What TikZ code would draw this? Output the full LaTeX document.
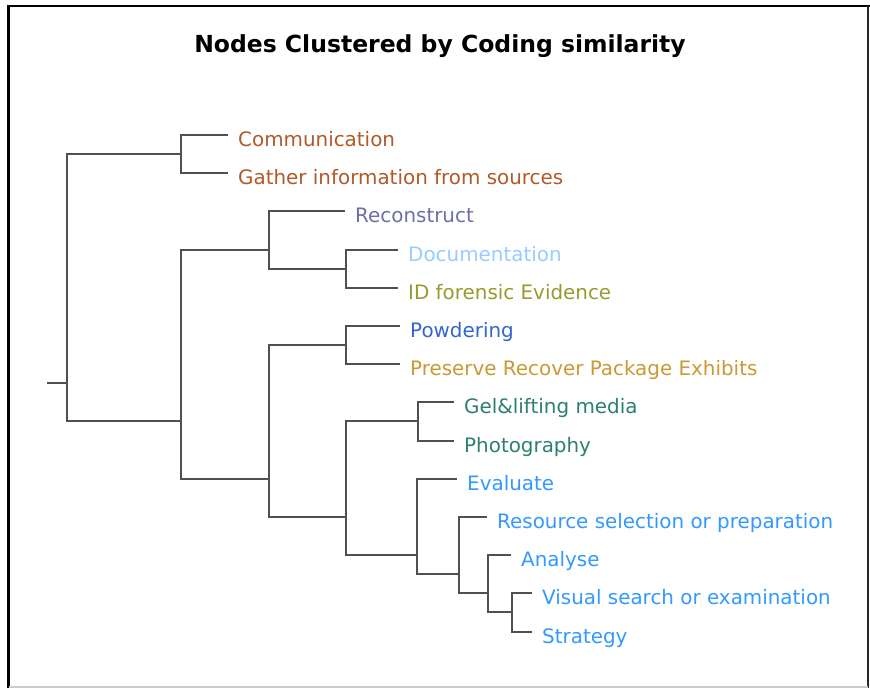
\documentclass[tikz,border=0pt]{standalone}
\usepackage{fontspec}
\setmainfont{DejaVu Sans}
\definecolor{linegray}{HTML}{505050}
\definecolor{cBrown}{HTML}{B05A2A}
\definecolor{cSlate}{HTML}{6E6EA8}
\definecolor{cSky}{HTML}{99CCFF}
\definecolor{cOlive}{HTML}{9A9A30}
\definecolor{cRoyal}{HTML}{3366CC}
\definecolor{cGold}{HTML}{CC9933}
\definecolor{cTeal}{HTML}{2D8070}
\definecolor{cBlue}{HTML}{3399FF}
\tikzset{
  branch/.style={draw=linegray, line width=2pt},
  leaf/.style={anchor=base west, inner sep=0pt, xshift=10pt, yshift=-11pt,
    font=\fontsize{19.9}{23}\selectfont},
  heading/.style={font=\bfseries\fontsize{23.5}{27}\selectfont, inner sep=0pt},
}
\begin{document}
\begin{tikzpicture}[x=1pt, y=-1pt]
  % canvas and frame
  \fill[white] (0,0) rectangle (870,688);
  \useasboundingbox (0,0) rectangle (870,688);
  \draw[black, line width=2.7pt] (8.7,688) -- (8.7,6) -- (870,6);
  \draw[black!85, line width=1.5pt] (868,6) -- (868,688);
  \draw[black!20, line width=1.5pt] (8.7,687) -- (868,687);

  \node[heading] (title) at (440,46) {Nodes Clustered by Coding similarity};

  % ends of the leaf branches
  \coordinate (e1)  at (228,135);
  \coordinate (e2)  at (228,173);
  \coordinate (e3)  at (345,211);
  \coordinate (e4)  at (398,250);
  \coordinate (e5)  at (398,288);
  \coordinate (e6)  at (400,326);
  \coordinate (e7)  at (400,364);
  \coordinate (e8)  at (454,402);
  \coordinate (e9)  at (454,441);
  \coordinate (e10) at (457,479);
  \coordinate (e11) at (487,517);
  \coordinate (e12) at (511,555);
  \coordinate (e13) at (532,593);
  \coordinate (e14) at (532,632);

  % leaf labels
  \node[leaf, text=cBrown] (l1)  at (e1)  {Communication};
  \node[leaf, text=cBrown] (l2)  at (e2)  {Gather information from sources};
  \node[leaf, text=cSlate] (l3)  at (e3)  {Reconstruct};
  \node[leaf, text=cSky]   (l4)  at (e4)  {Documentation};
  \node[leaf, text=cOlive] (l5)  at (e5)  {ID forensic Evidence};
  \node[leaf, text=cRoyal] (l6)  at (e6)  {Powdering};
  \node[leaf, text=cGold]  (l7)  at (e7)  {Preserve Recover Package Exhibits};
  \node[leaf, text=cTeal]  (l8)  at (e8)  {Gel\&lifting media};
  \node[leaf, text=cTeal]  (l9)  at (e9)  {Photography};
  \node[leaf, text=cBlue]  (l10) at (e10) {Evaluate};
  \node[leaf, text=cBlue]  (l11) at (e11) {Resource selection or preparation};
  \node[leaf, text=cBlue]  (l12) at (e12) {Analyse};
  \node[leaf, text=cBlue]  (l13) at (e13) {Visual search or examination};
  \node[leaf, text=cBlue]  (l14) at (e14) {Strategy};

  % merge points of the clusters
  \coordinate (stub) at (47,383);
  \coordinate (R)  at (67,383);
  \coordinate (A)  at (181,154);
  \coordinate (B)  at (181,421);
  \coordinate (B1) at (269,250);
  \coordinate (DI) at (346,269);
  \coordinate (B2) at (269,479);
  \coordinate (P)  at (346,345);
  \coordinate (C)  at (346,517);
  \coordinate (GP) at (418,421);
  \coordinate (D)  at (417,555);
  \coordinate (E)  at (459,574);
  \coordinate (F)  at (488,593);
  \coordinate (G)  at (512,612);

  % dendrogram branches
  \draw[branch] (stub) -- (R);
  \draw[branch] (A)   -| (R)  |- (B);
  \draw[branch] (e1)  -| (A)  |- (e2);
  \draw[branch] (B1)  -| (B)  |- (B2);
  \draw[branch] (e3)  -| (B1) |- (DI);
  \draw[branch] (e4)  -| (DI) |- (e5);
  \draw[branch] (P)   -| (B2) |- (C);
  \draw[branch] (e6)  -| (P)  |- (e7);
  \draw[branch] (GP)  -| (C)  |- (D);
  \draw[branch] (e8)  -| (GP) |- (e9);
  \draw[branch] (e10) -| (D)  |- (E);
  \draw[branch] (e11) -| (E)  |- (F);
  \draw[branch] (e12) -| (F)  |- (G);
  \draw[branch] (e13) -| (G)  |- (e14);
\end{tikzpicture}
\end{document}
